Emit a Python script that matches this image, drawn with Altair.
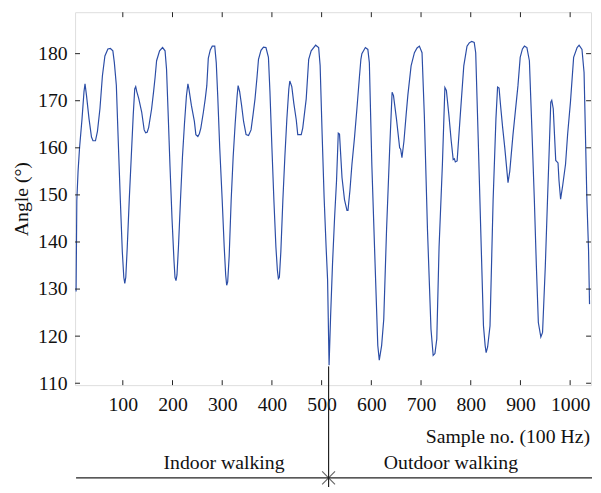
import altair as alt
import pandas as pd

# Sample index (100 Hz) and knee angle in degrees
sample = [6, 7.5, 10, 13, 18, 22, 24, 27, 32, 37, 40, 45, 49, 54, 59, 64, 70, 75, 80, 83,
          87, 91, 95, 99, 102, 104, 106, 109, 113, 117, 121, 124, 126, 128, 132, 138, 143, 146, 149, 152,
          158, 162, 165, 168, 174, 180, 185, 188, 191, 195, 199, 203, 205, 207, 209, 212, 216, 220, 224, 228,
          231, 233, 238, 244, 247, 251, 254, 257, 262, 266, 269, 272, 276, 280, 285, 288, 291, 295, 300, 304,
          307, 309, 311, 314, 318, 322, 326, 330, 332, 335, 339, 343, 348, 353, 358, 362, 366, 370, 373, 378,
          383, 388, 393, 396, 400, 404, 408, 411, 413, 415, 418, 422, 426, 430, 434, 436, 440, 444, 449, 452,
          459, 462, 469, 474, 479, 488, 494, 497, 501, 505, 509, 512, 515, 518, 522, 526, 530, 533.5, 536, 541,
          546, 551, 553, 557, 561, 566, 571, 576, 579, 581, 588, 593, 596, 601, 607.5, 613, 616, 620.7, 625, 630.6,
          637, 641.8, 644.6, 650.5, 657, 659, 661.6, 665.6, 670, 673.5, 680, 686.7, 692, 696.7, 702, 706.6, 713, 720, 724.4, 728,
          731.7, 736.3, 743, 748, 751, 756, 760.8, 764.7, 767, 769, 772.6, 779, 786, 792.5, 797, 802, 807, 810, 815, 820,
          825.6, 829, 831, 834, 838.8, 845, 850.7, 854, 857, 860, 864, 868.5, 875, 878.5, 885, 890, 895, 899.5, 904, 908,
          913, 918, 923, 928, 932, 936, 941, 944.5, 950, 954.4, 958, 961, 963, 966, 971, 975.6, 977.6, 980.8, 985, 990.7,
          995, 1000.6, 1007, 1014, 1018, 1023.8, 1028, 1033.7, 1037, 1039]
angle = [129.5, 148.8, 155, 160, 166.2, 172, 173.6, 171.1, 166.2, 162.3, 161.5, 161.5, 163.5, 168.3, 175.3, 179.5, 181.0, 181.1, 180.6, 178.1,
         173.3, 161, 149, 138, 132.5, 131.2, 132.5, 139, 149, 158, 167, 172.5, 173, 172, 170.5, 167.6, 163.8, 163.2, 163.3, 164.3,
         168.3, 172, 175, 178.5, 180.6, 181.3, 180.6, 176.7, 168, 156, 145, 136, 132.5, 131.8, 133, 139, 148.8, 158, 165, 171,
         173.6, 172.5, 169, 165.6, 162.8, 162.4, 163, 164.2, 167.5, 170.5, 173.2, 179, 180.8, 181.6, 181.6, 178.1, 171, 160, 148.8, 139,
         133, 130.8, 131.5, 137, 148.8, 158, 165, 171, 173.2, 172, 169, 165.6, 162.8, 162.6, 163.8, 167, 170.4, 175, 178.8, 180.7,
         181.4, 181.3, 179.2, 172, 160, 148.8, 139, 134, 132.2, 132.5, 138, 148.8, 158, 166, 172.5, 174.2, 173, 169.5, 165.9, 162.8,
         162.8, 164.2, 170.4, 178.8, 180.6, 181.8, 181.3, 177.5, 163, 149.5, 139, 132, 113.8, 124, 135.6, 145, 153, 163.1, 162.9, 153.7,
         149, 146.7, 146.7, 151, 156.5, 162, 168.3, 175, 178.8, 180, 181.3, 180.9, 178.1, 156.5, 135.5, 118, 114.9, 118, 123.6, 142.5,
         160, 171.8, 171.1, 166.2, 160, 159.7, 157.9, 161.4, 167, 171.2, 177.4, 180.2, 181.2, 181.6, 180.2, 167, 142.5, 121.5, 115.9, 116.3,
         119.4, 139, 156.5, 172.8, 172.2, 167, 161.4, 157.5, 157.7, 157, 157.2, 167, 177.4, 181.6, 182.3, 182.6, 182.4, 180.2, 162, 143,
         122.2, 118, 116.5, 117.7, 122.2, 148.8, 166.2, 172.9, 172.7, 169, 164.5, 160, 152.6, 155, 162.8, 168, 173.2, 179.2, 181, 181.6,
         181.3, 178.5, 164, 148.8, 135, 122.9, 119.8, 120.8, 134.8, 148.8, 160, 169.7, 170.1, 168.3, 157.3, 156.8, 153, 149.1, 152, 156.5,
         163, 169.7, 179.2, 181.3, 181.8, 180.9, 176, 148.8, 138.3, 126.8]

x_ticks = [100, 200, 300, 400, 500, 600, 700, 800, 900, 1000]
y_ticks = [110, 120, 130, 140, 150, 160, 170, 180]
split_sample = [514]
segment_labels = ["Indoor walking", "Outdoor walking"]

W, H = 523, 378
FONT = "Liberation Serif"
FS = 20
xs = alt.Scale(domain=[4, 1042], nice=False, zero=False)
ys = alt.Scale(domain=[109.6, 188.8], nice=False, zero=False)

x_axis = alt.Axis(values=x_ticks, format="d", title=None, tickSize=0, domain=False, grid=False,
                  labelFont=FONT, labelFontSize=FS, labelColor="#111", labelPadding=10,
                  labelFlush=False)
y_axis = alt.Axis(values=y_ticks, format="d", title="Angle (°)", tickSize=0, domain=False, grid=False,
                  labelFont=FONT, labelFontSize=FS, labelColor="#111", labelPadding=8,
                  titleFont=FONT, titleFontSize=FS, titleFontWeight="normal", titleColor="#111",
                  titlePadding=6, labelFlush=False)

df = pd.DataFrame({"x": sample, "y": angle})
line = alt.Chart(df).mark_line(color="#2B4DA6", strokeWidth=1.2, clip=True).encode(
    x=alt.X("x:Q", scale=xs, axis=x_axis),
    y=alt.Y("y:Q", scale=ys, axis=y_axis),
)

xt = pd.DataFrame({"t": x_ticks})
yt = pd.DataFrame({"t": y_ticks})
tick_style = dict(color="#222", strokeWidth=1)
xb = alt.Chart(xt).mark_rule(**tick_style).encode(x=alt.X("t:Q", scale=xs, axis=x_axis), y=alt.value(H), y2=alt.value(H - 5))
xtop = alt.Chart(xt).mark_rule(**tick_style).encode(x=alt.X("t:Q", scale=xs, axis=x_axis), y=alt.value(0), y2=alt.value(5))
yl = alt.Chart(yt).mark_rule(**tick_style).encode(y=alt.Y("t:Q", scale=ys, axis=y_axis), x=alt.value(0), x2=alt.value(5))
yr = alt.Chart(yt).mark_rule(**tick_style).encode(y=alt.Y("t:Q", scale=ys, axis=y_axis), x=alt.value(W), x2=alt.value(W - 5))

sp = pd.DataFrame({"s": split_sample})
vline = alt.Chart(sp).mark_rule(color="#222", strokeWidth=1.2).encode(
    x=alt.X("s:Q", scale=xs, axis=x_axis), y=alt.value(359), y2=alt.value(486))
hline = alt.Chart(sp).mark_rule(color="#222", strokeWidth=1.2).encode(
    x=alt.value(1), x2=alt.value(W + 1), y=alt.value(472))
xmark = alt.Chart(sp).mark_point(shape="M-1,-1L1,1M-1,1L1,-1", size=170, filled=False,
                                 color="#222", strokeWidth=1.1).encode(
    x=alt.X("s:Q", scale=xs, axis=x_axis), y=alt.value(472))

xtitle = alt.Chart(sp).mark_text(text="Sample no. (100 Hz)", font=FONT, fontSize=FS, color="#111",
                                 align="right", baseline="middle").encode(
    x=alt.value(W - 1), y=alt.value(431))
lab = pd.DataFrame({"label": segment_labels, "px": [151, 381]})
seg = alt.Chart(lab).mark_text(font=FONT, fontSize=FS, color="#111", baseline="middle").encode(
    x=alt.X("px:Q", scale=None), y=alt.value(457), text="label:N")

chart = alt.layer(line, xb, xtop, yl, yr, vline, hline, xmark, xtitle, seg).properties(
    width=W, height=H,
    padding={"left": 68, "top": 1, "right": 2, "bottom": 100},
    autosize=alt.AutoSizeParams(type="none"),
).configure_view(stroke="#222", strokeWidth=1.2).configure(background="white")

chart.save("out.html", embed_options={"renderer": "svg", "actions": False})
